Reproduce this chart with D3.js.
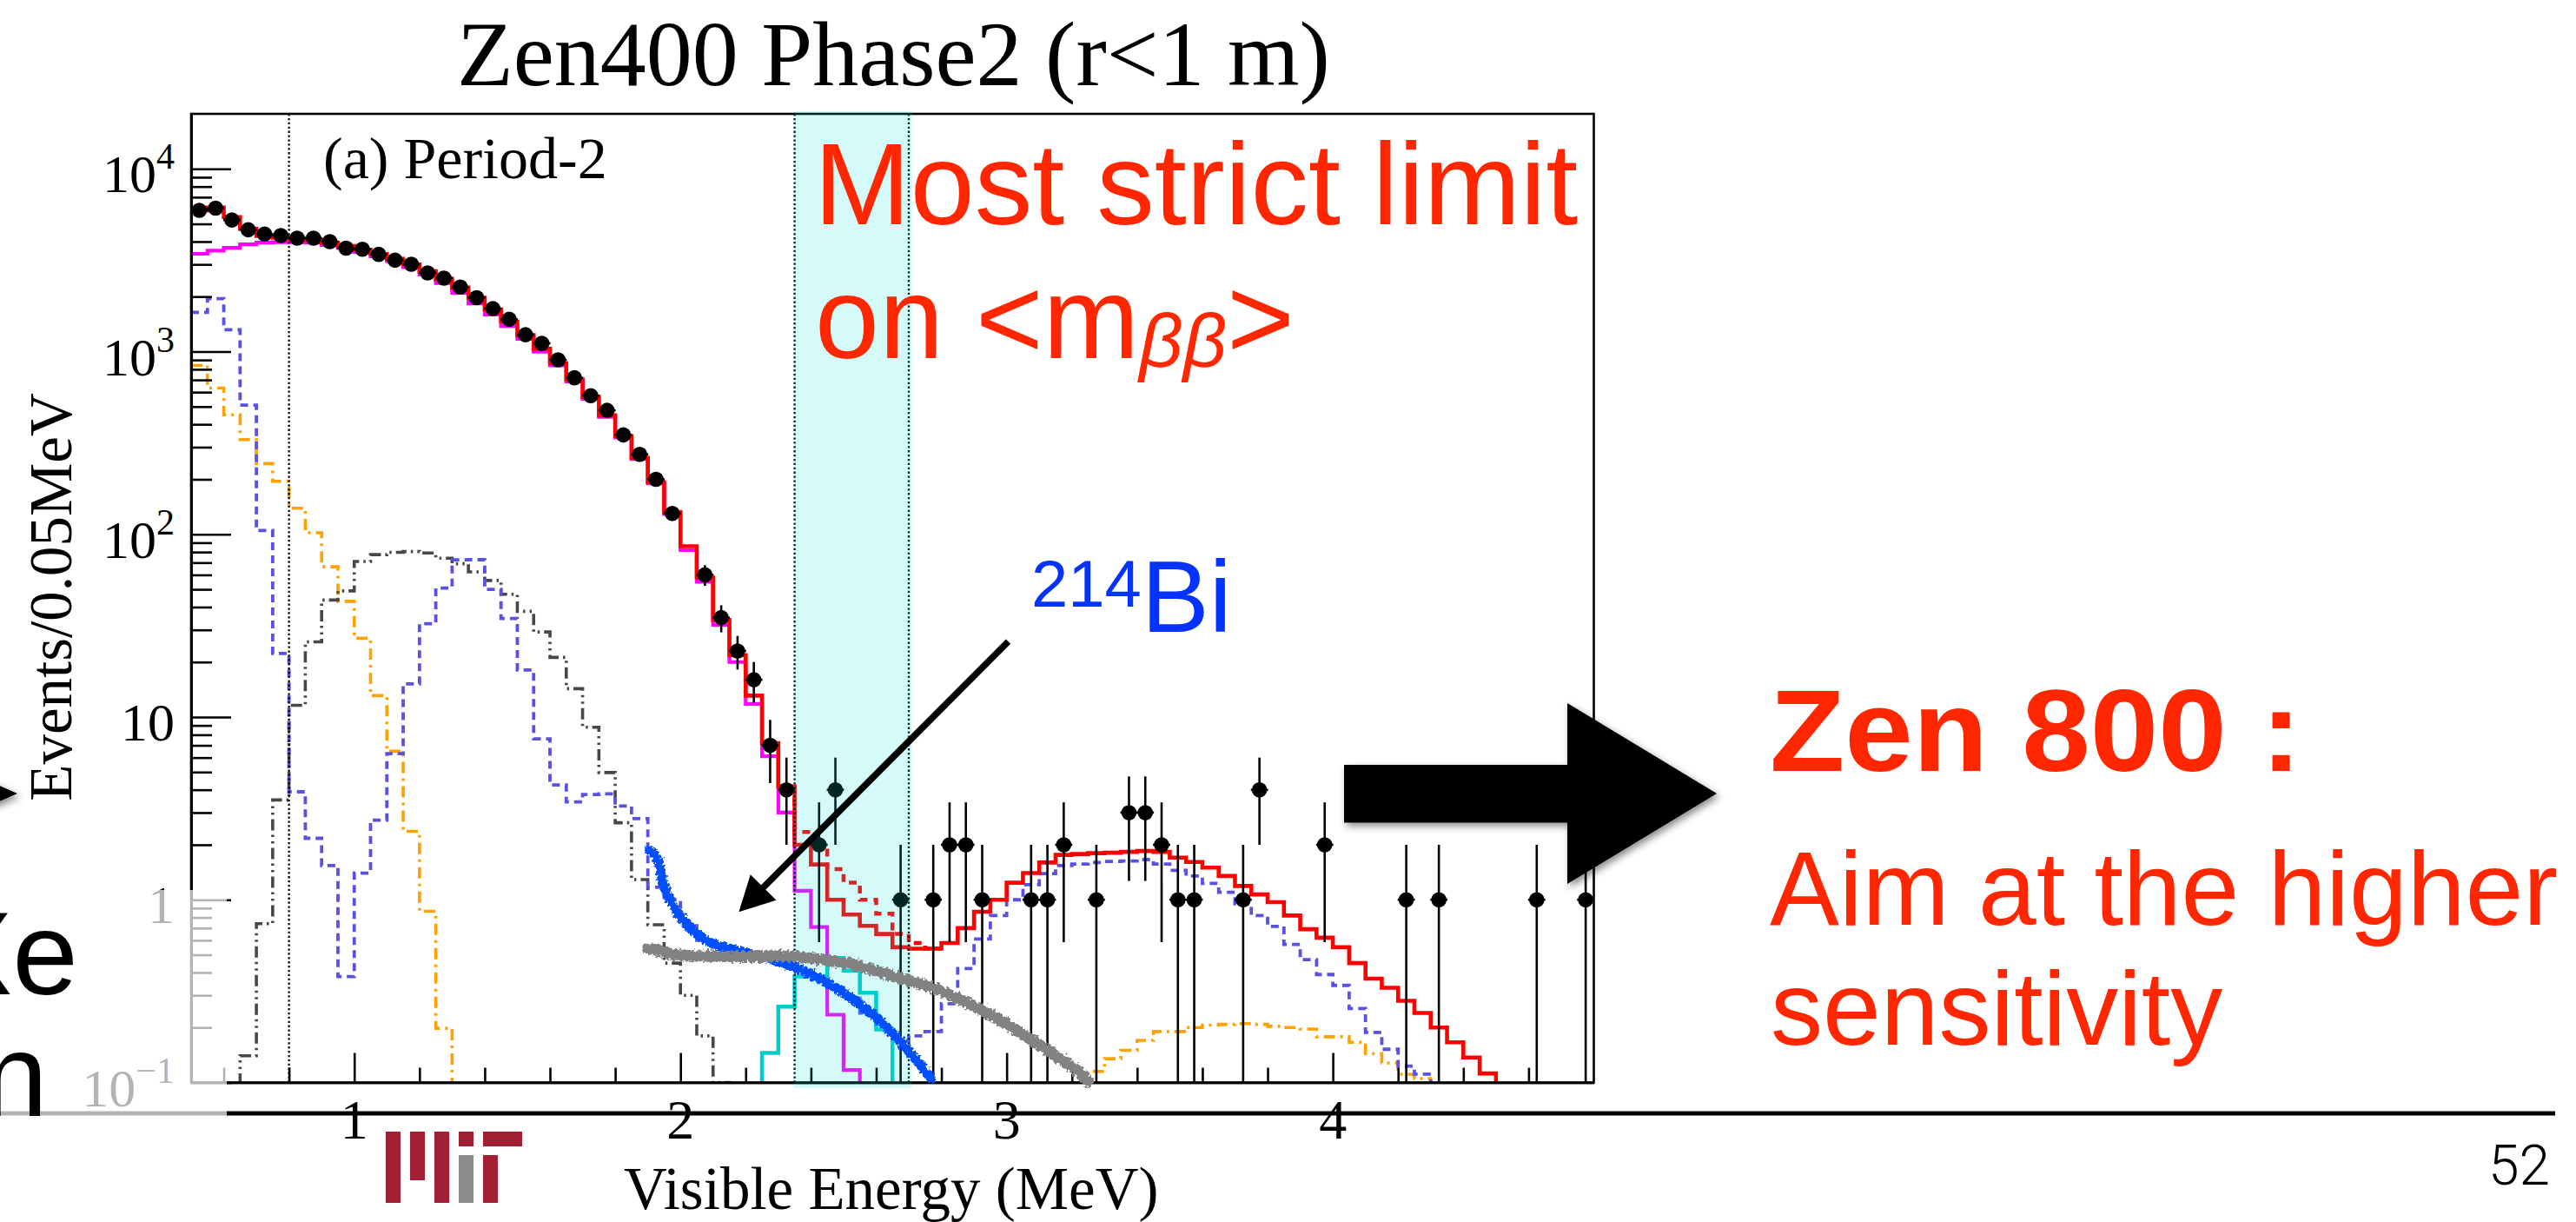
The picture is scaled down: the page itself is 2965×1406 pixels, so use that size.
<!DOCTYPE html>
<html>
<head>
<meta charset="utf-8">
<script src="https://cdn.jsdelivr.net/npm/d3@7"></script>
<style>
  body { margin: 0; background: #fff; }
  svg { display: block; }
</style>
</head>
<body>
<svg id="slide" width="2965" height="1406"></svg>
<script>
// ---- binning of the energy spectrum: 0.05 MeV bins, 0.5 - 4.8 MeV ----
const binLow = 0.5;
const binWidth = 0.05;

// observed events per bin (null = marker not shown)
const dataCounts = [
  5930, 6090, 5250, 4640, 4400, 4320, 4180, 4180, 4000, 3680,
  3630, 3405, 3165, 3005, 2697, 2525, 2255, 1973, 1718, 1502,
  1237, 1109, 902, 719, 574, 477, 350, 274, 200, 130,
  null, 60, 35, 23, 16, 7, 4, 0, 2, 4,
  0, 0, 0, 1, 0, 1, 2, 2, 1, 0,
  0, 1, 1, 2, 0, 1, 0, 3, 3, 2,
  1, 1, 0, 0, 1, 4, 0, 0, 0, 2,
  0, 0, 0, 0, 1, 0, 1, 0, 0, 0,
  0, 0, 1, 0, 0, 1
];

// best-fit total spectrum
const totalFit = [
  5910, 6150, 5450, 4700, 4300, 4200, 4130, 4080, 3940, 3780,
  3610, 3420, 3220, 3000, 2750, 2500, 2240, 1970, 1700, 1460,
  1230, 1035, 865, 705, 565, 448, 345, 262, 193, 132,
  86, 58, 34, 21.8, 13.1, 7.2, 4.17, 2.0, 1.56, 1.0,
  0.83, 0.72, 0.65, 0.55, 0.54, 0.54, 0.58, 0.70, 0.86, 1.0,
  1.24, 1.40, 1.60, 1.76, 1.78, 1.80, 1.81, 1.83, 1.85, 1.83,
  1.70, 1.61, 1.50, 1.35, 1.19, 1.07, 0.97, 0.82, 0.69, 0.62,
  0.55, 0.45, 0.37, 0.33, 0.28, 0.24, 0.20, 0.166, 0.137, 0.112,
  0.09, 0.075, 0.06, 0.05, 0.04, 0.035
];

// total spectrum including the 0nu upper limit (only around the window)
const totalWithLimit = [
  null, null, null, null, null, null, null, null, null, null,
  null, null, null, null, null, null, null, null, null, null,
  null, null, null, null, null, null, null, null, null, null,
  null, null, null, null, null, null, 4.17, 2.35, 1.96, 1.47,
  1.24, 1.0, 0.84, 0.65, 0.58, 0.54, null, null, null, null,
  null, null, null, null, null, null, null, null, null, null,
  null, null, null, null, null, null, null, null, null, null,
  null, null, null, null, null, null, null, null, null, null,
  null, null, null, null, null, null
];

// 2nu double-beta component
const twoNuBB = [
  3430, 3570, 3700, 3860, 3950, 3975, 3975, 3950, 3830, 3690,
  3510, 3325, 3130, 2900, 2640, 2375, 2100, 1835, 1594, 1378,
  1174, 998, 840, 687, 552, 439, 339, 258, 190, 129,
  82, 55, 32, 20, 11.8, 6.1, 3.0, 1.12, 0.71, 0.235,
  0.117, 0, 0, 0, 0, 0, 0, 0, 0, 0,
  0, 0, 0, 0, 0, 0, 0, 0, 0, 0,
  0, 0, 0, 0, 0, 0, 0, 0, 0, 0,
  0, 0, 0, 0, 0, 0, 0, 0, 0, 0,
  0, 0, 0, 0, 0, 0
];

// 0nu double-beta 90% C.L. upper limit
const zeroNuLimit = [
  0, 0, 0, 0, 0, 0, 0, 0, 0, 0,
  0, 0, 0, 0, 0, 0, 0, 0, 0, 0,
  0, 0, 0, 0, 0, 0, 0, 0, 0, 0,
  0, 0, 0, 0, 0, 0.145, 0.26, 0.38, 0.38, 0.48,
  0.41, 0.31, 0.195, 0, 0, 0, 0, 0, 0, 0,
  0, 0, 0, 0, 0, 0, 0, 0, 0, 0,
  0, 0, 0, 0, 0, 0, 0, 0, 0, 0,
  0, 0, 0, 0, 0, 0, 0, 0, 0, 0,
  0, 0, 0, 0, 0, 0
];

// background (dashed blue)
const bgDashed = [
  1640, 1950, 1318, 509, 105, 22.3, 3.9, 2.17, 1.54, 0.38,
  1.40, 2.73, 6.3, 15.2, 32.4, 50.8, 72.5, 72.6, 50, 34.6,
  18.1, 7.6, 4.25, 3.43, 3.77, 3.8, 3.26, 2.78, 1.17, 1.0,
  0.72, 0.6, 0.55, 0.52, 0.5, 0.47, 0.44, 0.41, 0.37, 0.33,
  0.29, 0.24, 0.2, 0.17, 0.18, 0.19, 0.27, 0.42, 0.61, 0.82,
  1.0, 1.21, 1.39, 1.54, 1.57, 1.6, 1.62, 1.63, 1.66, 1.57,
  1.45, 1.35, 1.23, 1.10, 0.95, 0.82, 0.715, 0.57, 0.47, 0.39,
  0.34, 0.254, 0.188, 0.152, 0.123, 0.111, 0.09, 0.075, 0.06, 0.05,
  0.04, 0.03, 0.03, 0.02, 0.02, 0.02
];

// background (orange dash-dot)
const bgDashDot = [
  840, 632, 451, 330, 244, 195, 139, 102, 66.4, 43,
  27, 13.1, 6.5, 2.37, 0.865, 0.198, 0, 0, 0, 0,
  0, 0, 0, 0, 0, 0, 0, 0, 0, 0,
  0, 0, 0, 0, 0, 0, 0, 0, 0, 0,
  0, 0, 0, 0, 0, 0, 0, 0, 0, 0,
  0, 0, 0, 0, 0.1, 0.115, 0.135, 0.15, 0.17, 0.19,
  0.19, 0.2, 0.206, 0.208, 0.21, 0.208, 0.203, 0.2, 0.196, 0.178,
  0.178, 0.166, 0.144, 0.128, 0.111, 0.105, 0, 0, 0, 0,
  0, 0, 0, 0, 0, 0
];

// background (dark grey dash-dot-dot)
const bgDashDotDot = [
  0, 0, 0, 0.14, 0.74, 3.52, 11.6, 25.8, 43.7, 49,
  71, 77.4, 79.7, 80.5, 79, 74, 69, 62.3, 55.9, 47,
  37.9, 29.2, 21.2, 14.3, 8.8, 4.97, 2.64, 1.29, 0.73, 0.45,
  0.3, 0.18, 0.1, 0, 0, 0, 0, 0, 0, 0,
  0, 0, 0, 0, 0, 0, 0, 0, 0, 0,
  0, 0, 0, 0, 0, 0, 0, 0, 0, 0,
  0, 0, 0, 0, 0, 0, 0, 0, 0, 0,
  0, 0, 0, 0, 0, 0, 0, 0, 0, 0,
  0, 0, 0, 0, 0, 0
];

// hand-drawn traces [energy MeV, events]
const bi214Trace = [
  [1.905, 1.87], [1.929, 1.68], [1.947, 1.22], [1.976, 0.94], [2.012, 0.76],
  [2.06, 0.63], [2.107, 0.57], [2.167, 0.53], [2.25, 0.49], [2.345, 0.43],
  [2.44, 0.36], [2.536, 0.28], [2.607, 0.22], [2.679, 0.164], [2.738, 0.123],
  [2.768, 0.105]
];
const greyTrace = [
  [1.90, 0.54], [1.929, 0.53], [1.988, 0.50], [2.107, 0.49], [2.226, 0.49],
  [2.345, 0.49], [2.44, 0.47], [2.536, 0.44], [2.655, 0.38], [2.774, 0.33],
  [2.893, 0.265], [3.012, 0.203], [3.131, 0.148], [3.214, 0.117], [3.25, 0.102]
];
// pointer towards the 214Bi trace [energy, events]
const pointerFrom = [3.005, 25.9];
const pointerTo = [2.179, 0.857];

// analysis window and fit threshold (MeV)
const windowLow = 2.35, windowHigh = 2.70, fitThreshold = 0.8;

// axis ticks and labels
const yMajorTicks = [0.1, 1, 10, 100, 1000, 10000];
const yTickBase = ["10", "1", "10", "10", "10", "10"];
const yTickExp = ["\u22121", "", "", "2", "3", "4"];
const xMajorTicks = [1, 2, 3, 4];
const xTickLabels = ["1", "2", "3", "4"];

// ---------------------------------------------------------------
const W = 2965, H = 1406;
const svg = d3.select("#slide");
const frame = { left: 220, right: 1834.5, top: 131, bottom: 1245.5 };

const x = d3.scaleLinear().domain([0.5, 4.8]).range([frame.left, frame.right]);
const y = d3.scaleLog().domain([0.1, 20000]).range([frame.bottom, frame.top]);

const SERIF = "'Liberation Serif', 'Times New Roman', serif";
const SANS = "'Liberation Sans', Arial, Helvetica, sans-serif";
const RED_TXT = "#ff2600";

const defs = svg.append("defs");
defs.append("clipPath").attr("id", "plotClip")
  .append("rect")
  .attr("x", frame.left).attr("y", frame.top)
  .attr("width", frame.right - frame.left).attr("height", frame.bottom - frame.top);

const rough = defs.append("filter").attr("id", "rough")
  .attr("filterUnits", "userSpaceOnUse")
  .attr("x", 0).attr("y", 0).attr("width", W).attr("height", H);
rough.append("feTurbulence").attr("type", "fractalNoise")
  .attr("baseFrequency", 0.3).attr("numOctaves", 2).attr("seed", 7).attr("result", "noise");
rough.append("feDisplacementMap").attr("in", "SourceGraphic").attr("in2", "noise")
  .attr("scale", 9).attr("xChannelSelector", "R").attr("yChannelSelector", "G");

const shadow = defs.append("filter").attr("id", "shadow")
  .attr("filterUnits", "userSpaceOnUse")
  .attr("x", 0).attr("y", 0).attr("width", W).attr("height", H);
shadow.append("feDropShadow").attr("dx", 3).attr("dy", 4)
  .attr("stdDeviation", 4).attr("flood-color", "#000").attr("flood-opacity", 0.45);

svg.append("rect").attr("width", W).attr("height", H).attr("fill", "#fff");

// ---- histograms ----
const floorValue = 0.01; // below the axis range, clipped away
function histPoints(vals) {
  const pts = [];
  vals.forEach((v, i) => {
    if (v === null) return;
    const lo = binLow + i * binWidth;
    const vv = v > 0 ? v : floorValue;
    pts.push([lo, vv], [lo + binWidth, vv]);
  });
  return pts;
}
const histLine = d3.line().x(d => x(d[0])).y(d => y(d[1]));

const plot = svg.append("g").attr("clip-path", "url(#plotClip)");

const histStyles = [
  { vals: bgDashDot, color: "#ffa200", width: 3.6, dash: "13,6,3,6" },
  { vals: bgDashDotDot, color: "#474747", width: 3.6, dash: "13,5,2.5,5,2.5,5" },
  { vals: bgDashed, color: "#5a50e4", width: 3.8, dash: "9,6" },
  { vals: twoNuBB, color: "#ff00ff", width: 4.2, dash: null },
  { vals: zeroNuLimit, color: "#00cccc", width: 4.5, dash: null },
  { vals: totalWithLimit, color: "#ff0000", width: 4.5, dash: "9,7" },
  { vals: totalFit, color: "#ff0000", width: 4.6, dash: null }
];
histStyles.forEach(h => {
  plot.append("path")
    .attr("d", histLine(histPoints(h.vals)))
    .attr("fill", "none")
    .attr("stroke", h.color)
    .attr("stroke-width", h.width)
    .attr("stroke-dasharray", h.dash)
    .attr("stroke-linejoin", "miter");
});

// ---- data points with sqrt(N) errors ----
const shown = dataCounts
  .map((n, i) => ({ n, lo: binLow + i * binWidth }))
  .filter(d => d.n !== null && d.n > 0);
const pts = plot.append("g");
pts.selectAll("line.ey").data(shown).join("line")
  .attr("x1", d => x(d.lo + binWidth / 2)).attr("x2", d => x(d.lo + binWidth / 2))
  .attr("y1", d => y(Math.max(d.n - Math.sqrt(d.n), floorValue)))
  .attr("y2", d => y(d.n + Math.sqrt(d.n)))
  .attr("stroke", "#000").attr("stroke-width", 2.6);
pts.selectAll("line.ex").data(shown).join("line")
  .attr("x1", d => x(d.lo) - 0.5).attr("x2", d => x(d.lo + binWidth) + 0.5)
  .attr("y1", d => y(d.n)).attr("y2", d => y(d.n))
  .attr("stroke", "#000").attr("stroke-width", 2.6);
pts.selectAll("circle").data(shown).join("circle")
  .attr("cx", d => x(d.lo + binWidth / 2)).attr("cy", d => y(d.n))
  .attr("r", 8.8).attr("fill", "#000");

// ---- dotted vertical markers ----
[fitThreshold, windowLow, windowHigh].forEach(e => {
  svg.append("line")
    .attr("x1", x(e)).attr("x2", x(e))
    .attr("y1", frame.top).attr("y2", frame.bottom)
    .attr("stroke", "#000").attr("stroke-width", 2.3)
    .attr("stroke-dasharray", "2.3,2.6");
});

// ---- axes (ticks inside the frame) ----
const axisStyle = g => {
  g.selectAll("path").attr("stroke", "#000").attr("stroke-width", 2.6);
  g.selectAll("line").attr("stroke", "#000").attr("stroke-width", 2.6);
  g.selectAll("text").remove();
};
const yMinorTicks = y.ticks().filter(v => v < 20000 && !yMajorTicks.includes(v));
svg.append("g").attr("transform", `translate(${frame.left},0)`)
  .call(d3.axisRight(y).tickValues(yMajorTicks).tickSize(46).tickSizeOuter(0).tickFormat(""))
  .call(axisStyle);
svg.append("g").attr("transform", `translate(${frame.left},0)`)
  .call(d3.axisRight(y).tickValues(yMinorTicks).tickSize(24).tickSizeOuter(0).tickFormat(""))
  .call(axisStyle);

const xMinorTicks = d3.range(3, 24).filter(k => k % 5 !== 0).map(k => k * 0.2);
svg.append("g").attr("transform", `translate(0,${frame.bottom})`)
  .call(d3.axisTop(x).tickValues(xMajorTicks).tickSize(34).tickSizeOuter(0).tickFormat(""))
  .call(axisStyle);
svg.append("g").attr("transform", `translate(0,${frame.bottom})`)
  .call(d3.axisTop(x).tickValues(xMinorTicks).tickSize(17).tickSizeOuter(0).tickFormat(""))
  .call(axisStyle);

// frame box
svg.append("rect")
  .attr("x", frame.left).attr("y", frame.top)
  .attr("width", frame.right - frame.left).attr("height", frame.bottom - frame.top)
  .attr("fill", "none").attr("stroke", "#000").attr("stroke-width", 2.6);

// y tick labels
yMajorTicks.forEach((v, i) => {
  const t = svg.append("text")
    .attr("x", 201).attr("y", y(v) + 27)
    .attr("text-anchor", "end")
    .attr("font-family", SERIF).attr("font-size", 62).attr("fill", "#000");
  t.append("tspan").text(yTickBase[i]);
  if (yTickExp[i]) {
    t.append("tspan").attr("dy", -27).attr("font-size", 42).text(yTickExp[i]);
  }
});
// x tick labels
xMajorTicks.forEach((v, i) => {
  svg.append("text")
    .attr("x", x(v)).attr("y", 1310)
    .attr("text-anchor", "middle")
    .attr("font-family", SERIF).attr("font-size", 64).attr("fill", "#000")
    .text(xTickLabels[i]);
});

// axis titles
svg.append("text")
  .attr("transform", "translate(82,687) rotate(-90)")
  .attr("text-anchor", "middle")
  .attr("font-family", SERIF).attr("font-size", 69).attr("fill", "#000")
  .text("Events/0.05MeV");
svg.append("text")
  .attr("x", 718).attr("y", 1391)
  .attr("font-family", SERIF).attr("font-size", 69).attr("fill", "#000")
  .text("Visible Energy (MeV)");

// chart title and panel tag
svg.append("text")
  .attr("x", 526).attr("y", 98)
  .attr("font-family", SERIF).attr("font-size", 106).attr("fill", "#000")
  .text("Zen400 Phase2 (r<1 m)");
svg.append("text")
  .attr("x", 372).attr("y", 205)
  .attr("font-family", SERIF).attr("font-size", 68).attr("fill", "#000")
  .text("(a) Period-2");

// ---- highlighted 0nu window ----
svg.append("rect")
  .attr("x", x(windowLow) - 1).attr("y", 128)
  .attr("width", x(windowHigh + 0.01) - x(windowLow) + 1).attr("height", 1252 - 128)
  .attr("fill", "rgb(0,225,225)").attr("fill-opacity", 0.165);

// ---- hand-drawn 214Bi and grey traces ----
const traceLine = d3.line().x(d => x(d[0])).y(d => y(d[1])).curve(d3.curveCatmullRom);
svg.append("path").attr("d", traceLine(bi214Trace))
  .attr("fill", "none").attr("stroke", "#0050ff").attr("stroke-width", 11)
  .attr("stroke-linecap", "round").attr("filter", "url(#rough)");
svg.append("path").attr("d", traceLine(greyTrace))
  .attr("fill", "none").attr("stroke", "#828282").attr("stroke-width", 13)
  .attr("stroke-linecap", "round").attr("filter", "url(#rough)");

// ---- pointer arrow ----
{
  const x0 = x(pointerFrom[0]), y0 = y(pointerFrom[1]);
  const x1 = x(pointerTo[0]), y1 = y(pointerTo[1]);
  const len = Math.hypot(x1 - x0, y1 - y0);
  const ux = (x1 - x0) / len, uy = (y1 - y0) / len;
  const headLen = 40, headHalf = 21;
  const bx = x1 - ux * headLen, by = y1 - uy * headLen;
  svg.append("line")
    .attr("x1", x0).attr("y1", y0).attr("x2", bx + ux * 4).attr("y2", by + uy * 4)
    .attr("stroke", "#000").attr("stroke-width", 7.5);
  svg.append("path")
    .attr("d", `M${x1},${y1} L${bx - uy * headHalf},${by + ux * headHalf} L${bx + uy * headHalf},${by - ux * headHalf} Z`)
    .attr("fill", "#000");
}

// ---- slide annotations ----
svg.append("text")
  .attr("x", 937).attr("y", 258)
  .attr("font-family", SANS).attr("font-size", 133).attr("fill", RED_TXT)
  .text("Most strict limit");
{
  const t = svg.append("text")
    .attr("x", 938).attr("y", 412)
    .attr("font-family", SANS).attr("font-size", 133).attr("fill", RED_TXT);
  t.append("tspan").text("on <m");
  t.append("tspan").attr("dy", 9.5).attr("font-size", 88).attr("font-style", "italic").text("\u03B2\u03B2");
  t.append("tspan").attr("dy", -9.5).text(">");
}
{
  const t = svg.append("text")
    .attr("x", 1187).attr("y", 727)
    .attr("font-family", SANS).attr("fill", "#0433ff");
  t.append("tspan").attr("font-size", 76).attr("dy", -29).text("214");
  t.append("tspan").attr("font-size", 117).attr("dy", 29).text("Bi");
}

// slide rule
svg.append("line")
  .attr("x1", 0).attr("x2", 2941).attr("y1", 1281).attr("y2", 1281)
  .attr("stroke", "#000").attr("stroke-width", 5);

// faded corner of the slide
svg.append("rect")
  .attr("x", 0).attr("y", 1024).attr("width", 261).attr("height", H - 1024)
  .attr("fill", "#fff").attr("fill-opacity", 0.7);

// text running in from the left edge
svg.append("text").attr("x", 90).attr("y", 1144).attr("text-anchor", "end")
  .attr("font-family", SANS).attr("font-size", 136).attr("fill", "#000").text("Xe");
svg.append("text").attr("x", 55).attr("y", 1284).attr("text-anchor", "end")
  .attr("font-family", SANS).attr("font-size", 136).attr("fill", "#000").text("n");
svg.append("path").attr("d", "M-12,899 L20,913 L-12,927 Z")
  .attr("fill", "#000").attr("filter", "url(#shadow)");

// big block arrow
svg.append("path")
  .attr("d", "M1547,880 L1804,880 L1804,809 L1976,913 L1804,1017 L1804,946.5 L1547,946.5 Z")
  .attr("fill", "#000").attr("filter", "url(#shadow)");

// right-hand message
svg.append("text")
  .attr("x", 2037).attr("y", 886.6)
  .attr("font-family", SANS).attr("font-weight", "bold").attr("font-size", 133)
  .attr("fill", RED_TXT)
  .attr("textLength", 612).attr("lengthAdjust", "spacingAndGlyphs")
  .text("Zen 800 :");
svg.append("text")
  .attr("x", 2037).attr("y", 1064)
  .attr("font-family", SANS).attr("font-size", 120).attr("fill", RED_TXT)
  .text("Aim at the higher");
svg.append("text")
  .attr("x", 2038).attr("y", 1202)
  .attr("font-family", SANS).attr("font-size", 120).attr("fill", RED_TXT)
  .text("sensitivity");

// page number
svg.append("text")
  .attr("x", 2935).attr("y", 1363).attr("text-anchor", "end")
  .attr("font-family", "Roboto, 'Liberation Sans', sans-serif").attr("font-weight", 300)
  .attr("font-size", 64).attr("fill", "#000")
  .text("52");

// MIT logo
{
  const logo = svg.append("g");
  const red = "#a31f34", grey = "#8a8b8c";
  const bars = [
    [444, 1302, 17, 82, red], [472, 1302, 17, 56, red], [500, 1302, 17, 82, red],
    [528, 1302, 17, 17, red], [528, 1329, 17, 55, grey],
    [556, 1302, 45, 17, red], [556, 1329, 17, 55, red]
  ];
  bars.forEach(b => logo.append("rect")
    .attr("x", b[0]).attr("y", b[1]).attr("width", b[2]).attr("height", b[3]).attr("fill", b[4]));
}
</script>
</body>
</html>
